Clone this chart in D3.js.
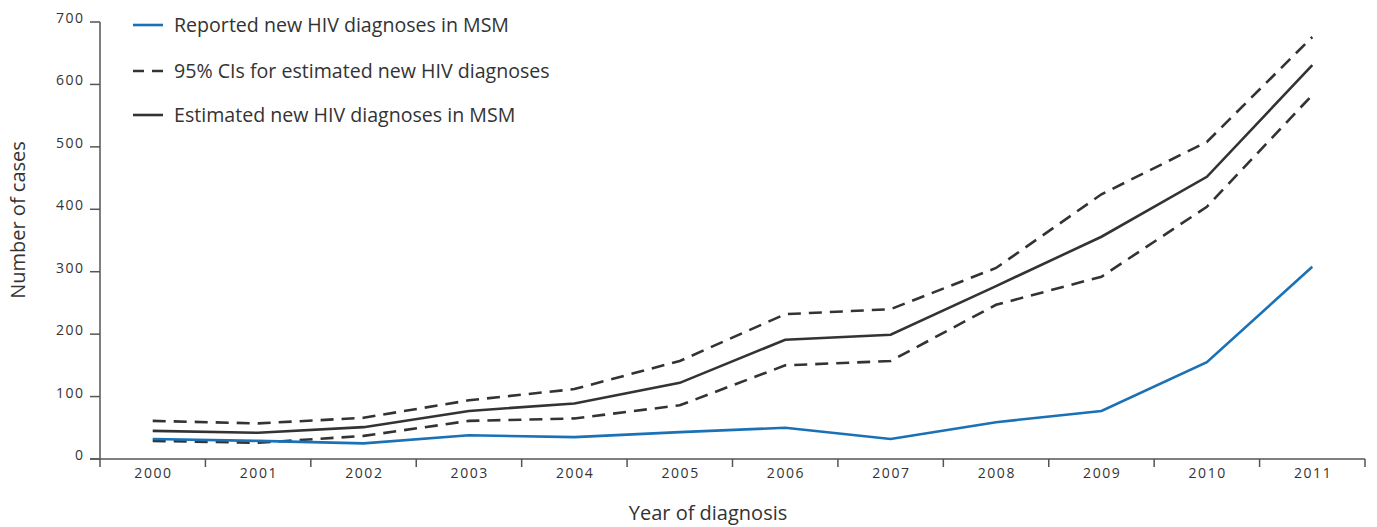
<!DOCTYPE html>
<html>
<head>
<meta charset="utf-8">
<script src="https://cdn.jsdelivr.net/npm/d3@7"></script>
<style>
  body { margin: 0; background: #fff; }
  text { font-family: "Open Sans", "Noto Sans", sans-serif; fill: #333; }
</style>
</head>
<body>
<svg id="chart" width="1377" height="527"></svg>
<script>
const years = ["2000","2001","2002","2003","2004","2005","2006","2007","2008","2009","2010","2011"];
const reported = [32, 29, 25, 38, 35, 43, 50, 32, 59, 77, 155, 308];
const estimated = [45, 42, 51, 77, 89, 122, 191, 199, 277, 356, 452, 631];
const upperCI = [61, 57, 66, 94, 112, 157, 232, 240, 306, 424, 508, 676];
const lowerCI = [29, 26, 37, 61, 65, 86, 150, 157, 247, 292, 404, 583];
const yTicks = [0, 100, 200, 300, 400, 500, 600, 700];
const legendLabels = ["Reported new HIV diagnoses in MSM", "95% CIs for estimated new HIV diagnoses", "Estimated new HIV diagnoses in MSM"];

(function () {
const svg = d3.select("#chart");
const mLeft = 100, mRight = 1365, mTop = 22, mBottom = 459;
const axisColor = "#555";
const dark = "#333";
const blue = "#1a71b5";

const x = d3.scaleBand().domain(years).range([mLeft, mRight]);
const y = d3.scaleLinear().domain([0, 700]).range([mBottom, mTop]);

// X axis
const xAxis = svg.append("g");
xAxis.append("line").attr("x1", mLeft - 10).attr("x2", mRight).attr("y1", mBottom).attr("y2", mBottom)
  .attr("stroke", axisColor).attr("stroke-width", 1.5);
const bounds = years.map(d => x(d)).concat([x(years[years.length-1]) + x.bandwidth()]);
xAxis.selectAll("line.tick").data(bounds).enter().append("line")
  .attr("x1", d => d).attr("x2", d => d).attr("y1", mBottom).attr("y2", mBottom + 8)
  .attr("stroke", axisColor).attr("stroke-width", 1.5);
xAxis.selectAll("text").data(years).enter().append("text")
  .attr("x", d => x(d) + x.bandwidth()/2 + 0.8).attr("y", mBottom + 19)
  .attr("text-anchor", "middle").attr("font-size", 14).attr("letter-spacing", 1.6)
  .text(d => d);

// Y axis
const yAxis = svg.append("g");
yAxis.append("line").attr("x1", mLeft).attr("x2", mLeft).attr("y1", mTop).attr("y2", mBottom)
  .attr("stroke", axisColor).attr("stroke-width", 1.5);
yAxis.selectAll("line.tick").data(yTicks).enter().append("line")
  .attr("x1", mLeft - 10).attr("x2", mLeft).attr("y1", d => y(d)).attr("y2", d => y(d))
  .attr("stroke", axisColor).attr("stroke-width", 1.5);
yAxis.selectAll("text").data(yTicks).enter().append("text")
  .attr("x", mLeft - 15.5).attr("y", d => y(d) + 1)
  .attr("text-anchor", "end").attr("font-size", 14).attr("letter-spacing", 1.5)
  .text(d => d);

// Axis titles
svg.append("text").attr("transform", `translate(25,220) rotate(-90)`)
  .attr("text-anchor", "middle").attr("font-size", 20).text("Number of cases");
svg.append("text").attr("x", 708).attr("y", 520)
  .attr("text-anchor", "middle").attr("font-size", 20).text("Year of diagnosis");

// Lines
const line = d3.line().x((d, i) => x(years[i]) + x.bandwidth()/2).y(d => y(d));
function draw(data, color, dash) {
  svg.append("path").datum(data).attr("d", line)
    .attr("fill", "none").attr("stroke", color).attr("stroke-width", 2.6)
    .attr("stroke-dasharray", dash || null).attr("stroke-linejoin", "miter");
}
draw(upperCI, dark, "13,8");
draw(lowerCI, dark, "13,8");
draw(estimated, dark);
draw(reported, blue);

// Legend
const legY = [25, 71, 115];
const legStyles = [{c: blue, d: null}, {c: dark, d: "11,8"}, {c: dark, d: null}];
legendLabels.forEach((lab, i) => {
  svg.append("line").attr("x1", 133).attr("x2", 163).attr("y1", legY[i]).attr("y2", legY[i])
    .attr("stroke", legStyles[i].c).attr("stroke-width", 2.6).attr("stroke-dasharray", legStyles[i].d);
  svg.append("text").attr("x", 174).attr("y", legY[i] + 7).attr("font-size", 19.6).text(lab);
});
})();
</script>
</body>
</html>
